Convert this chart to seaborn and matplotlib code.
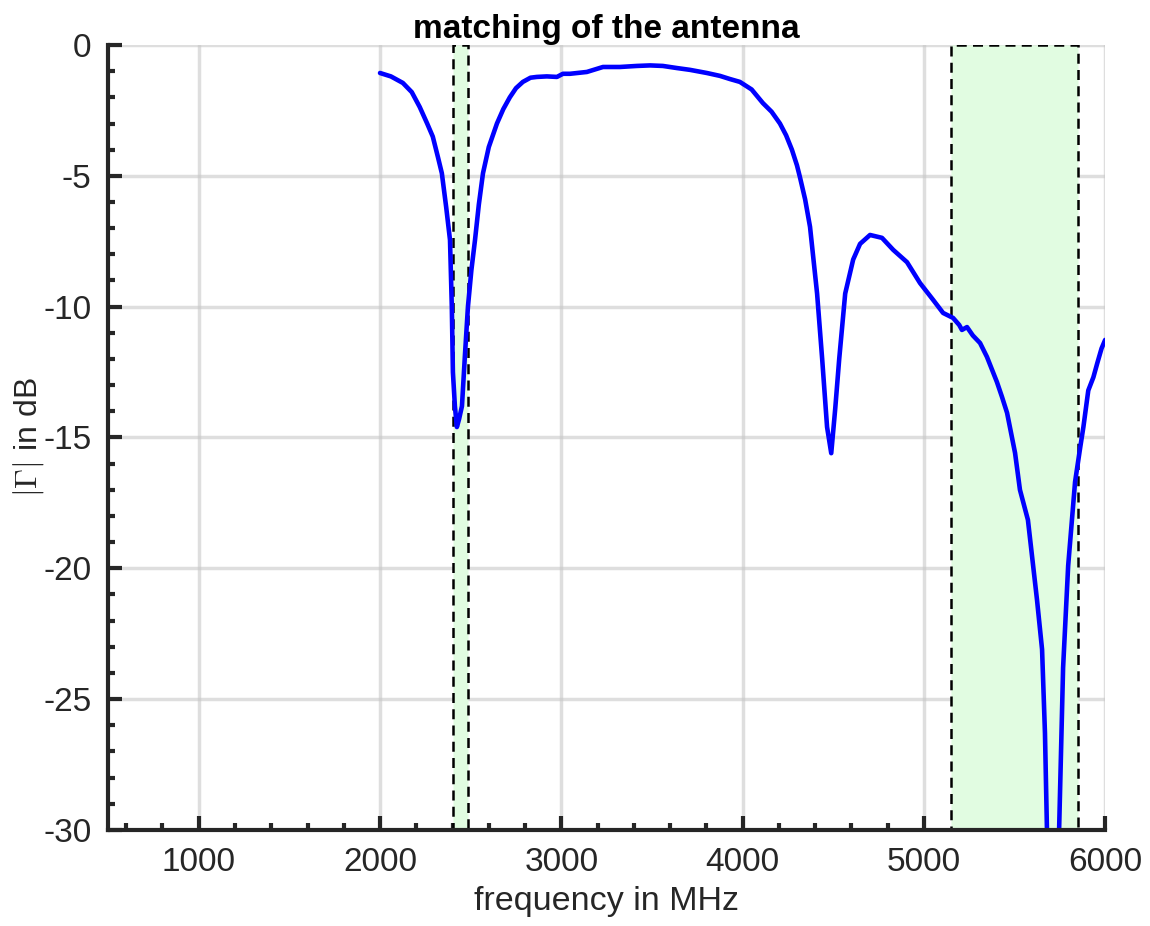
import numpy as np
import pandas as pd
import matplotlib
matplotlib.use("Agg")
import matplotlib.pyplot as plt
from matplotlib.patches import Rectangle
from matplotlib.ticker import MultipleLocator
import seaborn as sns

# valeurs (fréquence en MHz, |Gamma| en dB)
freq_mhz = [2000, 2060, 2126, 2175, 2219, 2260, 2291, 2320, 2341, 2365, 2386, 2396,
            2402, 2413, 2424, 2436, 2452, 2468, 2485, 2504, 2524, 2545, 2568, 2600,
            2645, 2680, 2716, 2750, 2788, 2830, 2865, 2920, 2976, 3009, 3048, 3141,
            3230, 3323, 3417, 3490, 3560, 3637, 3710, 3803, 3875, 3930, 3985, 4050,
            4112, 4160, 4206, 4240, 4272, 4300, 4316, 4345, 4372, 4411, 4439, 4466,
            4489, 4511, 4533, 4566, 4610, 4648, 4703, 4769, 4831, 4907, 4979, 5051,
            5106, 5161, 5195, 5210, 5238, 5270, 5310, 5348, 5403, 5431, 5459, 5503,
            5530, 5574, 5624, 5652, 5668, 5679, 5712, 5746, 5768, 5796, 5834, 5862,
            5880, 5907, 5935, 5957, 5980, 6000]
gamma_db = [-1.07, -1.2, -1.45, -1.8, -2.37, -3.0, -3.5, -4.3, -4.9, -6.2, -7.45, -10.0,
            -12.5, -13.8, -14.6, -14.3, -13.8, -11.9, -10.0, -8.6, -7.45, -6.1, -4.9, -3.9,
            -3.0, -2.45, -2.0, -1.65, -1.41, -1.25, -1.22, -1.2, -1.22, -1.1, -1.1, -1.03,
            -0.84, -0.84, -0.8, -0.78, -0.8, -0.88, -0.95, -1.07, -1.18, -1.3, -1.41, -1.7,
            -2.22, -2.55, -3.0, -3.45, -4.0, -4.6, -5.04, -5.9, -6.95, -9.5, -12.0, -14.6,
            -15.6, -13.9, -12.0, -9.5, -8.2, -7.6, -7.26, -7.37, -7.83, -8.3, -9.1, -9.74,
            -10.24, -10.43, -10.7, -10.89, -10.78, -11.1, -11.39, -11.92, -12.88, -13.45, -14.06, -15.59,
            -17.0, -18.15, -21.2, -23.1, -26.3, -30.0, -36.0, -30.0, -23.8, -19.9, -16.7, -15.4,
            -14.6, -13.2, -12.7, -12.15, -11.6, -11.27]

# bandes WiFi (2,4 GHz et 5 GHz)
bandes = [(2400, 2483.5), (5150, 5850)]

df = pd.DataFrame({"freq": freq_mhz, "gamma": gamma_db})

sns.set_style("white")
plt.rcParams['font.family'] = ['Liberation Sans', 'DejaVu Sans']
plt.rcParams['axes.unicode_minus'] = False
plt.rcParams['mathtext.fontset'] = 'cm'

fig = plt.figure(figsize=(11.5, 9.26), dpi=100)
ax = fig.add_axes([0.094, 0.1037, 0.867, 0.8477])

for (f0, f1) in bandes:
    ax.add_patch(Rectangle((f0, -30), f1 - f0, 30, facecolor='#e1fce1',
                           edgecolor='black', linestyle=(0, (4, 2.5)), linewidth=1.8, zorder=1))

sns.lineplot(data=df, x="freq", y="gamma", color='#0000ff', linewidth=3.3, ax=ax, zorder=3)

ax.set_xlim(500, 6000)
ax.set_ylim(-30, 0)
ax.set_xticks([1000, 2000, 3000, 4000, 5000, 6000])
ax.set_yticks([-30, -25, -20, -15, -10, -5, 0])
ax.xaxis.set_minor_locator(MultipleLocator(200))
ax.yaxis.set_minor_locator(MultipleLocator(1))
ax.grid(True, which='major', color='#c8c8c8', alpha=0.6, linewidth=2.5, zorder=0)
ax.set_axisbelow(True)

for s in ['top', 'right']:
    ax.spines[s].set_visible(False)
for s in ['left', 'bottom']:
    ax.spines[s].set_linewidth(3)
    ax.spines[s].set_color('#262626')
    ax.spines[s].set_zorder(5)

ax.tick_params(which='both', bottom=True, left=True, top=False, right=False)
ax.tick_params(which='major', direction='in', length=10, width=3, color='#262626',
               labelsize=24, labelcolor='#262626', pad=12)
ax.tick_params(which='minor', direction='in', length=5, width=3, color='#262626')

ax.set_xlabel("frequency in MHz", fontsize=24.5, color='#262626', labelpad=6)
ax.set_ylabel(r"$|\Gamma|$ in dB", fontsize=23, color='#262626', labelpad=-2)
ax.set_title("matching of the antenna", fontsize=24, fontweight='bold', color='black', pad=2)

plt.savefig("out.png", dpi=100)
